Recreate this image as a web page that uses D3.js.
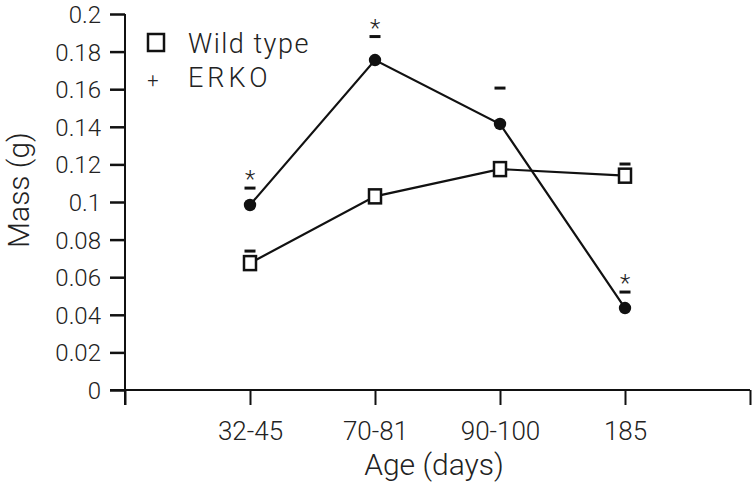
<!DOCTYPE html>
<html><head><meta charset="utf-8">
<script src="https://cdn.jsdelivr.net/npm/d3@7"></script>
<style>
body{margin:0;background:#fff;}
text{font-family:Roboto,"Liberation Sans",sans-serif;font-weight:300;fill:#222;}
</style></head>
<body><svg id="c" width="755" height="482"></svg>
<script>
const categories = ["32-45","70-81","90-100","185"];
const wildType = [0.0675, 0.103, 0.1175, 0.114];
const wildTypeErrTop = [0.0739, null, null, 0.1202];
const erko = [0.0984, 0.1755, 0.1415, 0.0436];
const erkoErrTop = [0.1074, 0.188, 0.1606, 0.0521];
const erkoSignificant = [true, true, false, true];
const yTicks = [0,0.02,0.04,0.06,0.08,0.1,0.12,0.14,0.16,0.18,0.2];
const xTickPositions = [0,1,2,3,4,5];

const svg = d3.select("#c");
const x = d3.scaleLinear().domain([0,5]).range([125,750]);
const y = d3.scaleLinear().domain([0,0.2]).range([390,14]);
const FONT = "Roboto, Liberation Sans, sans-serif";

// y axis
const yAx = svg.append("g").attr("transform","translate(125,0)")
  .call(d3.axisLeft(y).tickValues(yTicks).tickSize(15).tickPadding(9)
    .tickFormat(d=>d===0?"0":String(+d.toFixed(2))));
yAx.select(".domain").remove();
yAx.selectAll("line").attr("stroke","#111").attr("stroke-width",2.5);
yAx.selectAll("text").attr("font-size",24).attr("font-family",FONT).attr("font-weight",300).attr("fill","#222").attr("dy","0.35em");
svg.append("line").attr("x1",125).attr("x2",125).attr("y1",y(0.2)).attr("y2",405).attr("stroke","#111").attr("stroke-width",2);

// x axis
const xAx = svg.append("g").attr("transform","translate(0,390)")
  .call(d3.axisBottom(x).tickValues(xTickPositions).tickSize(15).tickPadding(17)
    .tickFormat(d=>categories[d-1]||""));
xAx.select(".domain").remove();
xAx.selectAll("line").attr("stroke","#111").attr("stroke-width",2);
xAx.selectAll("text").attr("font-size",26).attr("font-family",FONT).attr("font-weight",300).attr("fill","#222");
svg.append("line").attr("x1",110).attr("x2",750).attr("y1",390).attr("y2",390).attr("stroke","#111").attr("stroke-width",2);

// titles
svg.append("text").attr("x",434).attr("y",475).attr("text-anchor","middle").attr("font-size",30).text("Age (days)");
svg.append("text").attr("transform","translate(29,190) rotate(-90)").attr("text-anchor","middle").attr("font-size",30).text("Mass (g)");

const line = d3.line().x((d,i)=>x(i+1)).y(d=>y(d));
svg.append("path").datum(wildType).attr("d",line).attr("fill","none").attr("stroke","#111").attr("stroke-width",2.2);
svg.append("path").datum(erko).attr("d",line).attr("fill","none").attr("stroke","#111").attr("stroke-width",2.2);

// error caps
function caps(arr){
  svg.append("g").selectAll("line").data(arr.map((v,i)=>({v,i})).filter(d=>d.v!=null)).join("line")
    .attr("x1",d=>x(d.i+1)-5.5).attr("x2",d=>x(d.i+1)+5.5)
    .attr("y1",d=>y(d.v)).attr("y2",d=>y(d.v)).attr("stroke","#111").attr("stroke-width",3);
}
caps(wildTypeErrTop); caps(erkoErrTop);

// markers
svg.append("g").selectAll("rect").data(wildType).join("rect")
  .attr("x",(d,i)=>x(i+1)-6).attr("y",d=>y(d)-7).attr("width",12).attr("height",14)
  .attr("fill","#fff").attr("stroke","#111").attr("stroke-width",2.5);
svg.append("g").selectAll("circle").data(erko).join("circle")
  .attr("cx",(d,i)=>x(i+1)).attr("cy",d=>y(d)).attr("r",6.2).attr("fill","#111");

// asterisks
svg.append("g").selectAll("text").data(erkoErrTop.map((v,i)=>({v,i})).filter(d=>erkoSignificant[d.i])).join("text")
  .attr("x",d=>x(d.i+1)).attr("y",d=>y(d.v)-1).attr("text-anchor","middle").attr("font-size",24).text("*");

// legend
svg.append("rect").attr("x",148).attr("y",34).attr("width",16).attr("height",17).attr("fill","#fff").attr("stroke","#111").attr("stroke-width",2.5);
svg.append("text").attr("x",188).attr("y",53).attr("font-size",27).attr("letter-spacing",1.5).text("Wild type");
svg.append("text").attr("x",153).attr("y",87).attr("text-anchor","middle").attr("font-size",20).text("+");
svg.append("text").attr("x",188).attr("y",87).attr("font-size",27).attr("letter-spacing",4).text("ERKO");
</script></body></html>
